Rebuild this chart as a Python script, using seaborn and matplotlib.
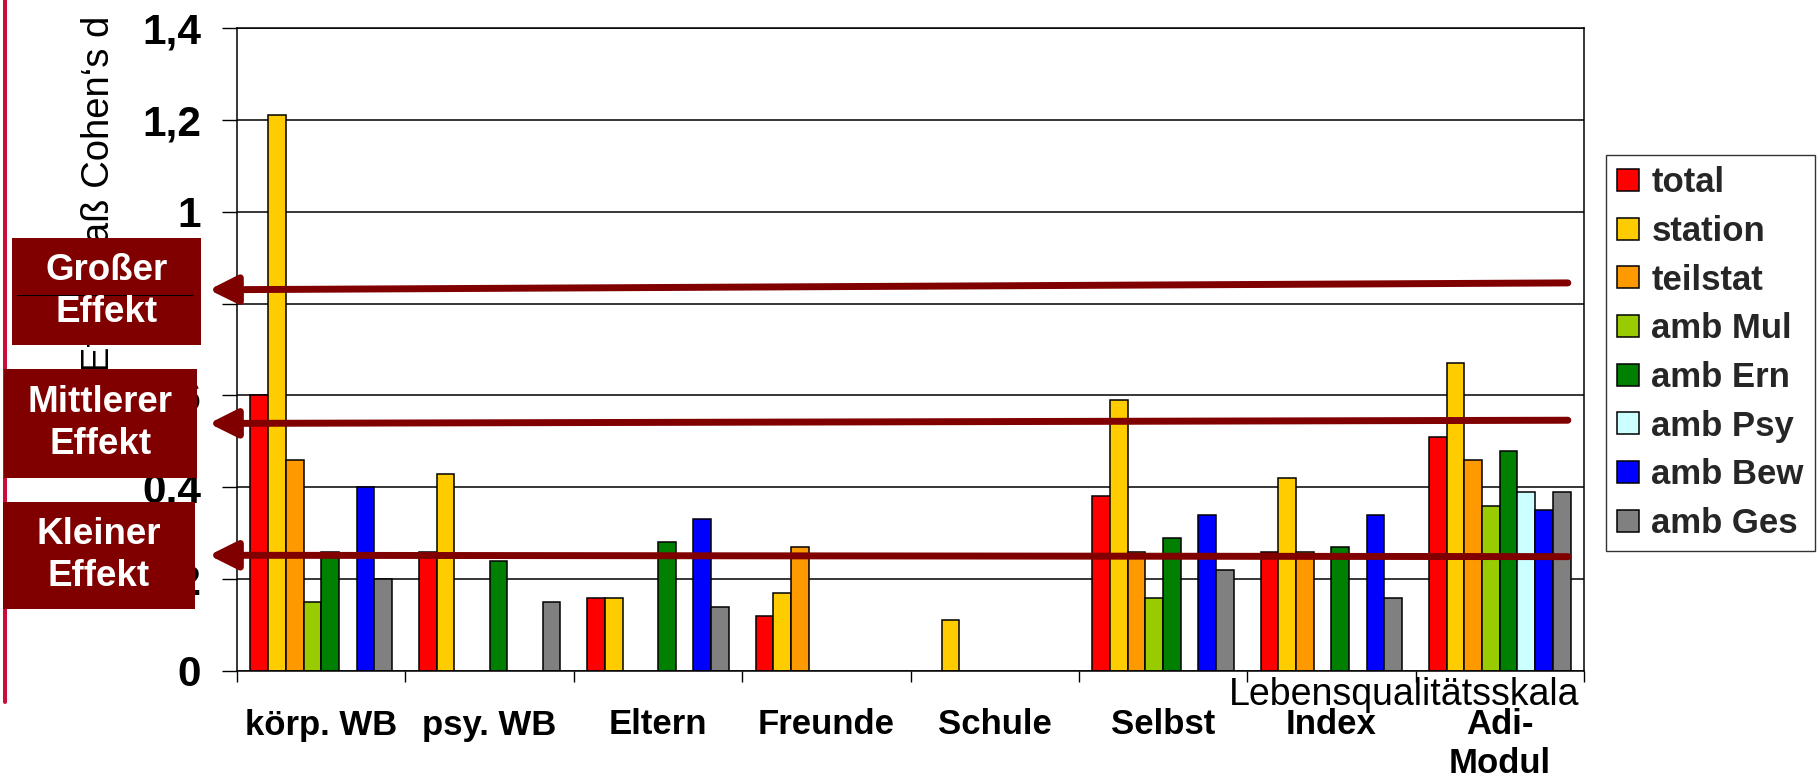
import numpy as np
import pandas as pd
import matplotlib
matplotlib.use("Agg")
import matplotlib.pyplot as plt
import seaborn as sns
from matplotlib.patches import Rectangle
from matplotlib.lines import Line2D
import matplotlib.transforms as mtransforms

# ---------------- data ----------------
categories = ["körp. WB", "psy. WB", "Eltern", "Freunde", "Schule", "Selbst", "Index", "Adi-\nModul"]
series = ["total", "station", "teilstat", "amb Mul", "amb Ern", "amb Psy", "amb Bew", "amb Ges"]
nan = np.nan
total    = [0.60, 0.26, 0.16, 0.12, nan, 0.38, 0.26, 0.51]
station  = [1.21, 0.43, 0.16, 0.17, 0.11, 0.59, 0.42, 0.67]
teilstat = [0.46, nan, nan, 0.27, nan, 0.26, 0.26, 0.46]
amb_mul  = [0.15, nan, nan, nan, nan, 0.16, nan, 0.36]
amb_ern  = [0.26, 0.24, 0.28, nan, nan, 0.29, 0.27, 0.48]
amb_psy  = [nan, nan, nan, nan, nan, nan, nan, 0.39]
amb_bew  = [0.40, nan, 0.33, nan, nan, 0.34, 0.34, 0.35]
amb_ges  = [0.20, 0.15, 0.14, nan, nan, 0.22, 0.16, 0.39]
colors = ["#FF0000", "#FFCC00", "#FF9900", "#99CC00", "#008000", "#CCFFFF", "#0000FF", "#808080"]

yticks = [0, 0.2, 0.4, 0.6, 0.8, 1.0, 1.2, 1.4]
ytick_labels = ["0", "0,2", "0,4", "0,6", "0,8", "1", "1,2", "1,4"]

effect_labels = ["Großer\nEffekt", "Mittlerer\nEffekt", "Kleiner\nEffekt"]
effect_left = [0.830, 0.539, 0.252]
effect_right = [0.845, 0.546, 0.249]

y_label = "Effektmaß Cohen‘s d"
extra_label = "Lebensqualitätsskala"

# ---------------- build frame ----------------
values = [total, station, teilstat, amb_mul, amb_ern, amb_psy, amb_bew, amb_ges]
rows = []
for s, vals in zip(series, values):
    for c, v in zip(categories, vals):
        rows.append({"cat": c, "series": s, "val": v})
df = pd.DataFrame(rows).dropna()

sns.set_theme(style="white")
plt.rcParams["font.family"] = ["Liberation Sans", "DejaVu Sans"]

W, H = 1818, 778
fig = plt.figure(figsize=(W / 100, H / 100), dpi=100)
ax = fig.add_axes([237 / W, 1 - 671 / H, (1584 - 237) / W, (671 - 28) / H])

sns.barplot(data=df, x="cat", y="val", hue="series", order=categories,
            hue_order=series, palette=colors, width=0.84, saturation=1,
            edgecolor="black", linewidth=1.1, errorbar=None, ax=ax)

ax.set_xlim(-0.5, 7.5)
ax.set_ylim(0, 1.4)
ax.set_xlabel("")
ax.set_ylabel("")

ax.set_yticks(yticks)
ax.set_yticklabels(ytick_labels, fontsize=30.5, fontweight="bold")
ax.tick_params(axis="y", length=11, width=1.0, direction="out", pad=15, left=True, colors="black")

ax.set_xticks(range(len(categories)))
ax.set_xticklabels(categories, fontsize=25, fontweight="bold", linespacing=1.2)
ax.set_xticks(np.arange(-0.5, len(categories), 1.0), minor=True)
ax.tick_params(axis="x", which="major", length=0, pad=27, colors="black")
ax.tick_params(axis="x", which="minor", length=8, width=1.0, direction="out", bottom=True, color="black")

ax.yaxis.grid(True, color="black", linewidth=1.1)
ax.xaxis.grid(False)
ax.set_axisbelow(True)
for sp in ax.spines.values():
    sp.set_visible(True)
    sp.set_color("black")
    sp.set_linewidth(1.1)

# legend
handles, labels = ax.get_legend_handles_labels()
leg = ax.legend(handles, labels, loc="upper left",
                bbox_to_anchor=(1606 / W, 1 - 155 / H), bbox_transform=fig.transFigure,
                prop={"size": 25, "weight": "bold"}, frameon=True, fancybox=False,
                shadow=False, handlelength=0.63, handleheight=0.6, handletextpad=0.35,
                labelspacing=0.45, borderpad=0.33, borderaxespad=0)
leg.get_frame().set_edgecolor("black")
leg.get_frame().set_linewidth(1.0)

# effect arrows
blend = mtransforms.blended_transform_factory(ax.transAxes, ax.transData)
tip_x = (209 - 237) / (1584 - 237)
for yl, yr in zip(effect_left, effect_right):
    ax.annotate("", xy=(tip_x, yl), xytext=(0.988, yr), xycoords=blend, textcoords=blend,
                arrowprops=dict(arrowstyle="-|>,head_length=1.7,head_width=0.85",
                                mutation_scale=10, lw=5.0, color="#800000",
                                shrinkA=0, shrinkB=0), zorder=4)

# y label (partly hidden by boxes)
fig.text(99 / W, 1 - 194 / H, y_label, rotation=90, fontsize=27.5,
         ha="center", va="center", color="black", zorder=2)

# pink vertical line at the left
fig.add_artist(Line2D([5 / W, 5 / W], [1, 1 - 702 / H], transform=fig.transFigure,
                      color="#CC0A3C", lw=2.9, zorder=2))

# effect boxes
boxes = [(12, 238, 201, 345), (4, 369, 197, 478), (3, 502, 195, 609)]
for (x0, y0, x1, y1), txt in zip(boxes, effect_labels):
    fig.add_artist(Rectangle((x0 / W, 1 - y1 / H), (x1 - x0) / W, (y1 - y0) / H,
                             transform=fig.transFigure, facecolor="#800000",
                             edgecolor="none", zorder=5))
    fig.text((x0 + x1) / 2 / W, 1 - (y0 + y1) / 2 / H, txt, color="white",
             fontsize=26.5, fontweight="bold", ha="center", va="center",
             linespacing=1.25, multialignment="center", zorder=6)

# thin stray line across first box
fig.add_artist(Line2D([17 / W, 193 / W], [1 - 295 / H, 1 - 295 / H],
                      transform=fig.transFigure, color="black", lw=0.7, zorder=5.5))

# extra label
fig.text(1579 / W, 1 - 705 / H, extra_label, fontsize=27, ha="right",
         va="baseline", color="black", zorder=3)

fig.savefig("out.png", dpi=100)
